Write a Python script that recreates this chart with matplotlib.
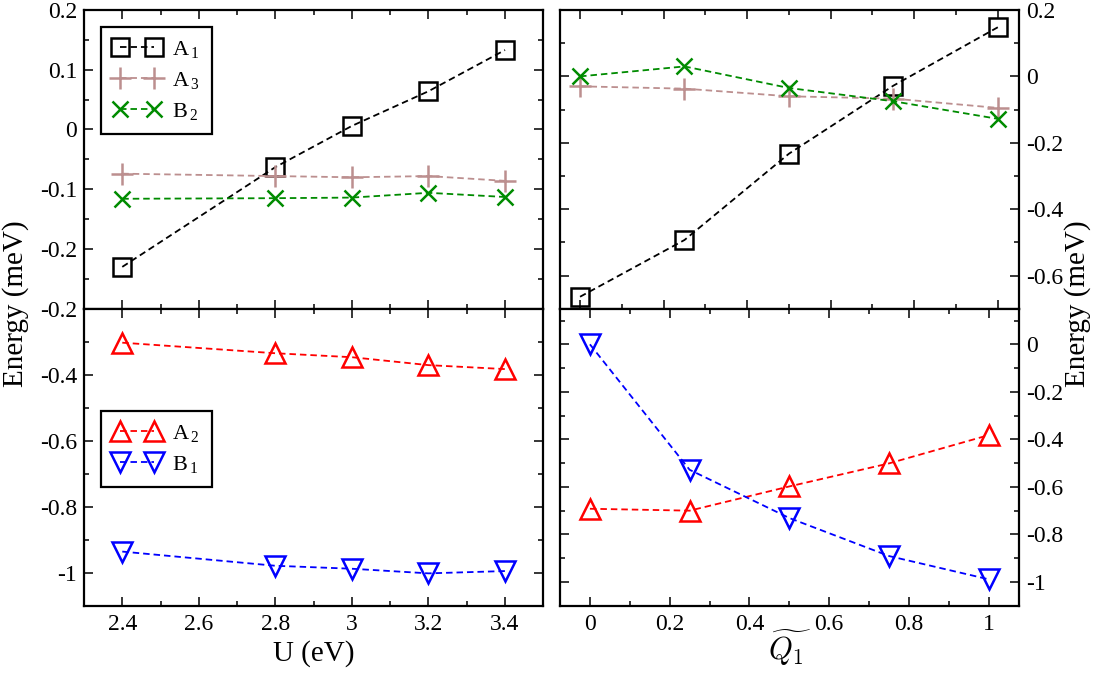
import matplotlib
matplotlib.use('Agg')
import matplotlib.pyplot as plt
from matplotlib.ticker import MultipleLocator, FuncFormatter

# ---------------- data ----------------
U = [2.4, 2.8, 3.0, 3.2, 3.4]
Q1 = [0.0, 0.25, 0.5, 0.75, 1.0]

U_A1 = [-0.230, -0.063, 0.006, 0.064, 0.133]
U_A3 = [-0.074, -0.078, -0.080, -0.078, -0.086]
U_B2 = [-0.116, -0.115, -0.114, -0.106, -0.113]
U_A2 = [-0.303, -0.335, -0.347, -0.371, -0.383]
U_B1 = [-0.936, -0.979, -0.988, -1.002, -0.995]

Q_A1 = [-0.664, -0.493, -0.233, -0.028, 0.148]
Q_A3 = [-0.030, -0.037, -0.060, -0.067, -0.095]
Q_B2 = [0.000, 0.030, -0.035, -0.075, -0.128]
Q_A2 = [-0.692, -0.700, -0.598, -0.501, -0.382]
Q_B1 = [0.000, -0.528, -0.731, -0.891, -0.989]

labels_top = [r'A$\,_{1}$', r'A$\,_{3}$', r'B$\,_{2}$']
labels_bot = [r'A$\,_{2}$', r'B$\,_{1}$']

# ---------------- style ----------------
plt.rcParams['font.family'] = ['Liberation Serif', 'DejaVu Serif']
plt.rcParams['mathtext.fontset'] = 'custom'
plt.rcParams['mathtext.rm'] = 'Liberation Serif'
plt.rcParams['mathtext.it'] = 'Liberation Serif:italic'
plt.rcParams['axes.unicode_minus'] = False

BLACK = '#000000'
BROWN = '#bc8f8f'
GREEN = '#008b00'
RED = '#ff0000'
BLUE = '#0000ff'

W, H = 1093, 674
fig = plt.figure(figsize=(W / 100, H / 100), dpi=100)


def ax_px(x0, y0, x1, y1):
    return fig.add_axes([x0 / W, 1 - y1 / H, (x1 - x0) / W, (y1 - y0) / H])


ax_tl = ax_px(84, 10, 543.3, 308.7)
ax_bl = ax_px(84, 308.7, 543.3, 605.7)
ax_tr = ax_px(560, 10, 1018.7, 308.7)
ax_br = ax_px(560, 308.7, 1018.7, 605.7)


def fmt(v, pos=None):
    v = round(v, 6)
    if v == 0:
        return '0'
    return f'{v:g}'


def fmt_tl(v, pos=None):
    if v < -0.25:
        return ''
    return fmt(v)


line_kw = dict(linestyle=(0, (3.6, 2.2)), linewidth=1.3, fillstyle='none',
               markeredgewidth=1.8)


def draw(ax, x, y, color, marker, ms, label=None):
    ax.plot(x, y, color=color, marker=marker, markersize=ms, label=label,
            **line_kw)


draw(ax_tl, U, U_A1, BLACK, 's', 12.5, labels_top[0])
draw(ax_tl, U, U_A3, BROWN, '+', 16, labels_top[1])
draw(ax_tl, U, U_B2, GREEN, 'x', 12, labels_top[2])
draw(ax_bl, U, U_A2, RED, '^', 15, labels_bot[0])
draw(ax_bl, U, U_B1, BLUE, 'v', 15, labels_bot[1])

draw(ax_tr, Q1, Q_A1, BLACK, 's', 12.5)
draw(ax_tr, Q1, Q_A3, BROWN, '+', 16)
draw(ax_tr, Q1, Q_B2, GREEN, 'x', 12)
draw(ax_br, Q1, Q_A2, RED, '^', 15)
draw(ax_br, Q1, Q_B1, BLUE, 'v', 15)

# limits
for ax in (ax_tl, ax_bl):
    ax.set_xlim(2.3, 3.5)
    ax.xaxis.set_major_locator(MultipleLocator(0.2))
    ax.xaxis.set_minor_locator(MultipleLocator(0.1))
ax_tl.set_ylim(-0.3, 0.2)
ax_tl.yaxis.set_major_locator(MultipleLocator(0.1))
ax_tl.yaxis.set_minor_locator(MultipleLocator(0.05))
ax_bl.set_ylim(-1.1, -0.2)
ax_bl.yaxis.set_major_locator(MultipleLocator(0.2))
ax_bl.yaxis.set_minor_locator(MultipleLocator(0.1))

ax_tr.set_xlim(-0.048, 1.05)
ax_br.set_xlim(-0.075, 1.075)
for ax in (ax_tr, ax_br):
    ax.xaxis.set_major_locator(MultipleLocator(0.2))
    ax.xaxis.set_minor_locator(MultipleLocator(0.1))
    ax.yaxis.set_major_locator(MultipleLocator(0.2))
    ax.yaxis.set_minor_locator(MultipleLocator(0.1))
ax_tr.set_ylim(-0.7, 0.2)
ax_br.set_ylim(-1.1, 0.15)

for ax in (ax_tl, ax_bl, ax_tr, ax_br):
    for s in ax.spines.values():
        s.set_linewidth(1.6)
    ax.tick_params(which='both', direction='in', top=True, bottom=True,
                   left=True, right=True, labelsize=17, pad=5, width=1.1)
    ax.tick_params(which='major', length=6.5)
    ax.tick_params(which='minor', length=3.3)
    ax.xaxis.set_major_formatter(FuncFormatter(fmt))
    ax.yaxis.set_major_formatter(FuncFormatter(fmt))

ax_tl.yaxis.set_major_formatter(FuncFormatter(fmt_tl))
ax_tl.tick_params(labelbottom=False)
ax_tr.tick_params(labelbottom=False, labelleft=False, labelright=True)
ax_br.tick_params(labelleft=False, labelright=True)
ax_bl.tick_params(axis='x', pad=6)
ax_br.tick_params(axis='x', pad=6)

# legends
leg_kw = dict(loc='upper left', numpoints=2, fontsize=16, frameon=True,
              fancybox=False, edgecolor='black', framealpha=1,
              borderaxespad=0, handlelength=2.15, handletextpad=0.5,
              labelspacing=0.45, borderpad=0.55)
lg1 = ax_tl.legend(bbox_to_anchor=(16.7 / 459.3, 1 - 17 / 298.7), **leg_kw)
lg2 = ax_bl.legend(bbox_to_anchor=(16.7 / 459.3, 1 - 102 / 297), **leg_kw)
for lg in (lg1, lg2):
    lg.get_frame().set_linewidth(1.6)

# axis labels
fig.text(16 / W, 1 - 304 / H, 'Energy (meV)', rotation=90, ha='center',
         va='center', fontsize=21)
fig.text(1078 / W, 1 - 304 / H, 'Energy (meV)', rotation=90, ha='center',
         va='center', fontsize=21)
fig.text(313.5 / W, 1 - 654 / H, 'U (eV)', ha='center', va='center',
         fontsize=21)
fig.text(789 / W, 1 - 648 / H, r'$\widetilde{Q_1}$', ha='center',
         va='center', fontsize=22, math_fontfamily='cm')

fig.savefig('out.png', dpi=100)
